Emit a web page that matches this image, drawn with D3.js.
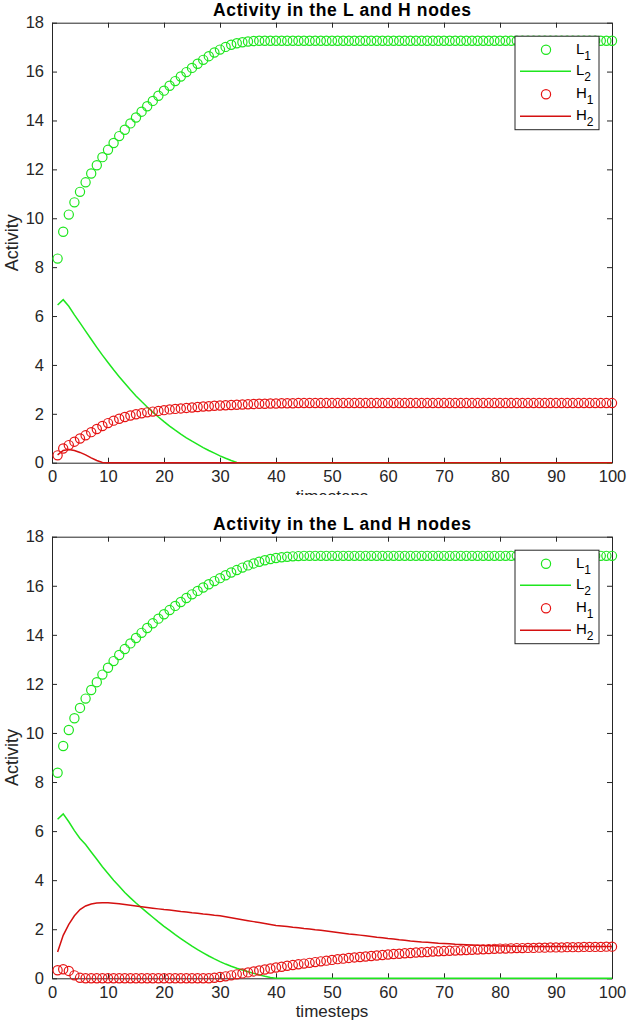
<!DOCTYPE html>
<html>
<head>
<meta charset="utf-8">
<script src="https://cdn.jsdelivr.net/npm/d3@7"></script>
<style>
  body { margin: 0; background: #fff; }
  svg { display: block; }
  text { font-family: "Liberation Sans", Arial, sans-serif; }
</style>
</head>
<body>
<script>
// timesteps 1..100
var steps = d3.range(1, 101);
var xTicks = [0, 10, 20, 30, 40, 50, 60, 70, 80, 90, 100];
var yTicks = [0, 2, 4, 6, 8, 10, 12, 14, 16, 18];
var legendNames = [["L", "1"], ["L", "2"], ["H", "1"], ["H", "2"]];

// ---- top panel ----
var topL1 = [8.35, 9.45, 10.15, 10.65, 11.08, 11.47, 11.83, 12.17, 12.5, 12.8,
  13.08, 13.36, 13.62, 13.88, 14.12, 14.36, 14.58, 14.8, 15.01, 15.22,
  15.42, 15.61, 15.8, 15.98, 16.15, 16.32, 16.48, 16.63, 16.78, 16.9,
  17.01, 17.1, 17.16, 17.2, 17.23, 17.25, 17.26, 17.26, 17.26, 17.26,
  17.26, 17.26, 17.26, 17.26, 17.26, 17.26, 17.26, 17.26, 17.26, 17.26,
  17.26, 17.26, 17.26, 17.26, 17.26, 17.26, 17.26, 17.26, 17.26, 17.26,
  17.26, 17.26, 17.26, 17.26, 17.26, 17.26, 17.26, 17.26, 17.26, 17.26,
  17.26, 17.26, 17.26, 17.26, 17.26, 17.26, 17.26, 17.26, 17.26, 17.26,
  17.26, 17.26, 17.26, 17.26, 17.26, 17.26, 17.26, 17.26, 17.26, 17.26,
  17.26, 17.26, 17.26, 17.26, 17.26, 17.26, 17.26, 17.26, 17.26, 17.26];
var topL2 = [6.45, 6.67, 6.4, 6.05, 5.72, 5.38, 5.05, 4.72, 4.4, 4.1,
  3.8, 3.52, 3.25, 2.98, 2.73, 2.5, 2.28, 2.07, 1.87, 1.68,
  1.5, 1.33, 1.17, 1.02, 0.88, 0.75, 0.62, 0.5, 0.39, 0.28,
  0.18, 0.09, 0.01, 0, 0, 0, 0, 0, 0, 0,
  0, 0, 0, 0, 0, 0, 0, 0, 0, 0,
  0, 0, 0, 0, 0, 0, 0, 0, 0, 0,
  0, 0, 0, 0, 0, 0, 0, 0, 0, 0,
  0, 0, 0, 0, 0, 0, 0, 0, 0, 0,
  0, 0, 0, 0, 0, 0, 0, 0, 0, 0,
  0, 0, 0, 0, 0, 0, 0, 0, 0, 0];
var topH1 = [0.3, 0.58, 0.72, 0.86, 0.99, 1.12, 1.25, 1.38, 1.5, 1.62,
  1.72, 1.8, 1.87, 1.93, 1.98, 2.02, 2.06, 2.09, 2.12, 2.15,
  2.18, 2.2, 2.22, 2.24, 2.26, 2.28, 2.3, 2.31, 2.33, 2.34,
  2.35, 2.36, 2.37, 2.38, 2.39, 2.4, 2.41, 2.41, 2.42, 2.42,
  2.43, 2.43, 2.43, 2.44, 2.44, 2.44, 2.44, 2.44, 2.44, 2.44,
  2.44, 2.44, 2.44, 2.44, 2.44, 2.44, 2.44, 2.44, 2.44, 2.44,
  2.44, 2.44, 2.44, 2.44, 2.44, 2.44, 2.44, 2.44, 2.44, 2.44,
  2.44, 2.44, 2.44, 2.44, 2.44, 2.44, 2.44, 2.44, 2.44, 2.44,
  2.44, 2.44, 2.44, 2.44, 2.44, 2.44, 2.44, 2.44, 2.44, 2.44,
  2.44, 2.44, 2.44, 2.44, 2.44, 2.44, 2.44, 2.44, 2.44, 2.44];
var topH2 = [0.32, 0.5, 0.54, 0.5, 0.42, 0.32, 0.2, 0.09, 0.01, 0,
  0, 0, 0, 0, 0, 0, 0, 0, 0, 0,
  0, 0, 0, 0, 0, 0, 0, 0, 0, 0,
  0, 0, 0, 0, 0, 0, 0, 0, 0, 0,
  0, 0, 0, 0, 0, 0, 0, 0, 0, 0,
  0, 0, 0, 0, 0, 0, 0, 0, 0, 0,
  0, 0, 0, 0, 0, 0, 0, 0, 0, 0,
  0, 0, 0, 0, 0, 0, 0, 0, 0, 0,
  0, 0, 0, 0, 0, 0, 0, 0, 0, 0,
  0, 0, 0, 0, 0, 0, 0, 0, 0, 0];

// ---- bottom panel ----
var botL1 = [8.38, 9.47, 10.12, 10.6, 11.02, 11.4, 11.75, 12.07, 12.38, 12.66,
  12.93, 13.18, 13.42, 13.65, 13.87, 14.08, 14.28, 14.47, 14.66, 14.84,
  15.01, 15.18, 15.34, 15.5, 15.65, 15.79, 15.93, 16.06, 16.19, 16.31,
  16.43, 16.54, 16.64, 16.74, 16.83, 16.91, 16.98, 17.04, 17.09, 17.13,
  17.16, 17.18, 17.2, 17.21, 17.22, 17.22, 17.22, 17.22, 17.22, 17.22,
  17.22, 17.22, 17.22, 17.22, 17.22, 17.22, 17.22, 17.22, 17.22, 17.22,
  17.22, 17.22, 17.22, 17.22, 17.22, 17.22, 17.22, 17.22, 17.22, 17.22,
  17.22, 17.22, 17.22, 17.22, 17.22, 17.22, 17.22, 17.22, 17.22, 17.22,
  17.22, 17.22, 17.22, 17.22, 17.22, 17.22, 17.22, 17.22, 17.22, 17.22,
  17.22, 17.22, 17.22, 17.22, 17.22, 17.22, 17.22, 17.22, 17.22, 17.22];
var botL2 = [6.48, 6.7, 6.38, 6.02, 5.7, 5.45, 5.15, 4.85, 4.55, 4.27,
  4.0, 3.75, 3.5, 3.28, 3.07, 2.87, 2.68, 2.49, 2.3, 2.12,
  1.95, 1.78, 1.62, 1.46, 1.31, 1.17, 1.04, 0.91, 0.79, 0.68,
  0.58, 0.49, 0.41, 0.34, 0.27, 0.2, 0.14, 0.08, 0.03, 0,
  0, 0, 0, 0, 0, 0, 0, 0, 0, 0,
  0, 0, 0, 0, 0, 0, 0, 0, 0, 0,
  0, 0, 0, 0, 0, 0, 0, 0, 0, 0,
  0, 0, 0, 0, 0, 0, 0, 0, 0, 0,
  0, 0, 0, 0, 0, 0, 0, 0, 0, 0,
  0, 0, 0, 0, 0, 0, 0, 0, 0, 0];
var botH1 = [0.33, 0.37, 0.3, 0.12, 0.02, 0, 0, 0, 0, 0,
  0, 0, 0, 0, 0, 0, 0, 0, 0, 0,
  0, 0, 0, 0, 0, 0, 0, 0, 0.02, 0.05,
  0.08, 0.12, 0.16, 0.2, 0.24, 0.28, 0.32, 0.36, 0.4, 0.44,
  0.47, 0.51, 0.54, 0.57, 0.6, 0.63, 0.66, 0.69, 0.72, 0.75,
  0.78, 0.8, 0.83, 0.85, 0.87, 0.89, 0.91, 0.93, 0.95, 0.97,
  0.99, 1.0, 1.02, 1.03, 1.05, 1.06, 1.07, 1.09, 1.1, 1.11,
  1.12, 1.13, 1.14, 1.15, 1.16, 1.17, 1.18, 1.19, 1.2, 1.21,
  1.21, 1.22, 1.23, 1.23, 1.24, 1.24, 1.25, 1.25, 1.26, 1.26,
  1.26, 1.27, 1.27, 1.27, 1.28, 1.28, 1.28, 1.28, 1.29, 1.29];
var botH2 = [1.07, 1.75, 2.2, 2.55, 2.8, 2.95, 3.03, 3.07, 3.08, 3.08,
  3.06, 3.04, 3.01, 2.98, 2.95, 2.92, 2.89, 2.86, 2.83, 2.8,
  2.78, 2.75, 2.72, 2.7, 2.67, 2.65, 2.62, 2.6, 2.57, 2.55,
  2.51, 2.47, 2.43, 2.39, 2.35, 2.31, 2.27, 2.23, 2.19, 2.15,
  2.13, 2.11, 2.08, 2.06, 2.03, 2.01, 1.98, 1.96, 1.93, 1.9,
  1.87, 1.84, 1.81, 1.79, 1.76, 1.73, 1.7, 1.67, 1.65, 1.62,
  1.6, 1.57, 1.55, 1.52, 1.5, 1.48, 1.47, 1.45, 1.43, 1.42,
  1.41, 1.39, 1.38, 1.37, 1.36, 1.35, 1.34, 1.33, 1.33, 1.32,
  1.32, 1.31, 1.31, 1.31, 1.3, 1.3, 1.3, 1.3, 1.3, 1.3,
  1.3, 1.3, 1.3, 1.3, 1.3, 1.3, 1.3, 1.3, 1.3, 1.3];

var green = "#1ee61e", red = "#e61414", darkRed = "#d41010", ink = "#262626";

var svg = d3.select("body").append("svg")
    .attr("width", 630)
    .attr("height", 1025);

var defs = svg.append("defs");
defs.append("clipPath").attr("id", "clipTop")
  .append("rect").attr("x", 0).attr("y", 0).attr("width", 630).attr("height", 495);

var x = d3.scaleLinear().domain([0, 100]).range([52, 612]);

function drawPanel(g, top, bottom, L1, L2, H1, H2) {
    var y = d3.scaleLinear().domain([0, 18]).range([bottom, top]);

    // ticks inside the box, MATLAB style
    var ax = g.append("g").attr("class", "axes");
    ax.append("g").attr("transform", "translate(0," + bottom + ")")
      .call(d3.axisBottom(x).tickValues(xTicks).tickSizeInner(-5).tickSizeOuter(0).tickPadding(8));
    ax.append("g").attr("transform", "translate(0," + top + ")")
      .call(d3.axisTop(x).tickValues(xTicks).tickSizeInner(-5).tickSizeOuter(0).tickFormat(""));
    ax.append("g").attr("transform", "translate(52,0)")
      .call(d3.axisLeft(y).tickValues(yTicks).tickSizeInner(-5).tickSizeOuter(0).tickPadding(8));
    ax.append("g").attr("transform", "translate(612,0)")
      .call(d3.axisRight(y).tickValues(yTicks).tickSizeInner(-5).tickSizeOuter(0).tickFormat(""));
    ax.selectAll(".domain").attr("stroke", ink);
    ax.selectAll(".tick line").attr("stroke", ink);
    ax.selectAll(".tick text").attr("fill", ink).style("font-size", "16.5px")
      .style("font-family", "Liberation Sans, Arial, sans-serif");

    var line = d3.line().x(function(d, i) { return x(steps[i]); }).y(function(d) { return y(d); });

    g.append("path").datum(L2).attr("d", line)
      .attr("fill", "none").attr("stroke", green).attr("stroke-width", 1.5);
    g.append("path").datum(H2).attr("d", line)
      .attr("fill", "none").attr("stroke", darkRed).attr("stroke-width", 1.5);

    g.append("g").selectAll("circle").data(H1).enter().append("circle")
      .attr("cx", function(d, i) { return x(steps[i]); })
      .attr("cy", function(d) { return y(d); })
      .attr("r", 4.6).attr("fill", "none").attr("stroke", red).attr("stroke-width", 1.2);
    g.append("g").selectAll("circle").data(L1).enter().append("circle")
      .attr("cx", function(d, i) { return x(steps[i]); })
      .attr("cy", function(d) { return y(d); })
      .attr("r", 4.6).attr("fill", "none").attr("stroke", green).attr("stroke-width", 1.2);

    // title and axis labels
    g.append("text").attr("x", 342).attr("y", top - 7)
      .attr("text-anchor", "middle").style("font-size", "17.5px").style("font-weight", "bold")
      .attr("textLength", 258).attr("lengthAdjust", "spacing")
      .attr("fill", "#000").text("Activity in the L and H nodes");
    g.append("text").attr("transform", "translate(18," + ((top + bottom) / 2) + ") rotate(-90)")
      .attr("text-anchor", "middle").style("font-size", "18px").attr("fill", ink).text("Activity");
    g.append("text").attr("x", 332).attr("y", bottom + 39)
      .attr("text-anchor", "middle").style("font-size", "17px").attr("fill", ink).text("timesteps");

    // legend
    var lg = g.append("g").attr("transform", "translate(515," + (top + 13.5) + ")");
    lg.append("rect").attr("width", 84).attr("height", 93.5)
      .attr("fill", "#fff").attr("stroke", ink).attr("stroke-width", 1);
    var rows = [13.5, 35, 58, 80];
    var kinds = [["circle", green], ["line", green], ["circle", red], ["line", darkRed]];
    rows.forEach(function(ry, k) {
        if (kinds[k][0] === "circle") {
            lg.append("circle").attr("cx", 31).attr("cy", ry).attr("r", 4.6)
              .attr("fill", "none").attr("stroke", kinds[k][1]).attr("stroke-width", 1.2);
        } else {
            lg.append("line").attr("x1", 5).attr("x2", 56).attr("y1", ry).attr("y2", ry)
              .attr("stroke", kinds[k][1]).attr("stroke-width", 1.5);
        }
        var t = lg.append("text").attr("x", 61).attr("y", ry + 4)
          .style("font-size", "15px").attr("fill", "#000");
        t.append("tspan").text(legendNames[k][0]);
        t.append("tspan").attr("dy", 6).style("font-size", "12px").text(legendNames[k][1]);
    });
}

drawPanel(svg.append("g").attr("clip-path", "url(#clipTop)"), 22.7, 462.7, topL1, topL2, topH1, topH2);
drawPanel(svg.append("g"), 536.7, 978.3, botL1, botL2, botH1, botH2);
</script>
</body>
</html>
